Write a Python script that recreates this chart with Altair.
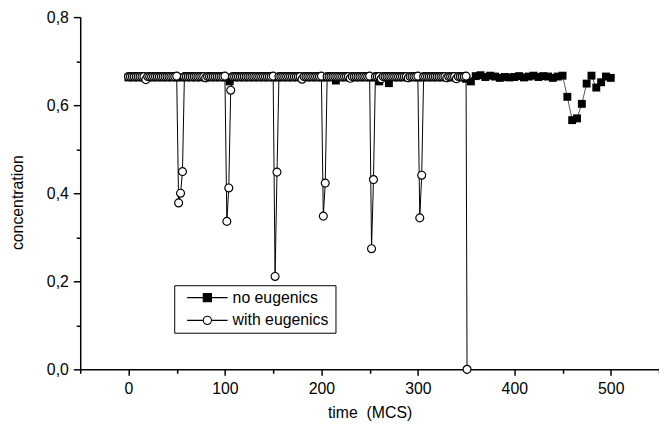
import altair as alt
import pandas as pd

series_names = ["no eugenics", "with eugenics"]

# with eugenics: sampled every 2 MCS, extinction at 351
time_with = list(range(0, 351, 2)) + [351]
conc_with = [
    # 0 .. 48
    0.665, 0.665, 0.665, 0.665, 0.665, 0.665, 0.665, 0.665, 0.665, 0.658,
    0.665, 0.665, 0.665, 0.665, 0.665, 0.665, 0.665, 0.665, 0.665, 0.665,
    0.665, 0.665, 0.665, 0.665, 0.665,
    # 50 .. 98
    0.666, 0.378, 0.400, 0.449, 0.665, 0.665, 0.665, 0.665, 0.665, 0.665,
    0.665, 0.665, 0.665, 0.665, 0.665, 0.662, 0.665, 0.665, 0.665, 0.665,
    0.665, 0.665, 0.665, 0.665, 0.665,
    # 100 .. 148
    0.666, 0.336, 0.412, 0.634, 0.665, 0.665, 0.665, 0.665, 0.665, 0.665,
    0.665, 0.665, 0.665, 0.665, 0.665, 0.665, 0.665, 0.665, 0.665, 0.665,
    0.665, 0.665, 0.665, 0.665, 0.665,
    # 150 .. 198
    0.666, 0.211, 0.448, 0.665, 0.665, 0.665, 0.665, 0.665, 0.665, 0.665,
    0.665, 0.665, 0.665, 0.665, 0.665, 0.659, 0.665, 0.665, 0.665, 0.665,
    0.665, 0.665, 0.665, 0.665, 0.665,
    # 200 .. 248
    0.666, 0.348, 0.423, 0.665, 0.665, 0.665, 0.665, 0.665, 0.665, 0.665,
    0.665, 0.665, 0.665, 0.665, 0.665, 0.661, 0.665, 0.665, 0.665, 0.665,
    0.665, 0.665, 0.665, 0.665, 0.665,
    # 250 .. 298
    0.666, 0.274, 0.431, 0.665, 0.665, 0.665, 0.660, 0.665, 0.665, 0.665,
    0.665, 0.665, 0.665, 0.665, 0.665, 0.665, 0.665, 0.665, 0.665, 0.665,
    0.662, 0.665, 0.665, 0.665, 0.665,
    # 300 .. 348
    0.666, 0.344, 0.441, 0.665, 0.665, 0.665, 0.665, 0.665, 0.665, 0.665,
    0.665, 0.665, 0.665, 0.665, 0.665, 0.662, 0.665, 0.665, 0.665, 0.665,
    0.660, 0.665, 0.665, 0.665, 0.665,
    # 350, 351
    0.666, 0.000,
]

# no eugenics: sampled every 5 MCS
time_no = list(range(0, 501, 5))
conc_no = [
    0.663, 0.663, 0.663, 0.663, 0.663, 0.663, 0.663, 0.663, 0.663, 0.663,
    0.663, 0.663, 0.663, 0.663, 0.663, 0.663, 0.663, 0.663, 0.663, 0.663,
    0.663, 0.654, 0.663, 0.663, 0.663, 0.663, 0.663, 0.663, 0.663, 0.663,
    0.663, 0.663, 0.663, 0.663, 0.663, 0.663, 0.663, 0.663, 0.663, 0.663,
    0.663, 0.663, 0.663, 0.656, 0.663, 0.663, 0.663, 0.663, 0.663, 0.663,
    0.663, 0.663, 0.654, 0.663, 0.650, 0.663, 0.663, 0.663, 0.663, 0.663,
    0.663, 0.663, 0.663, 0.663, 0.663, 0.663, 0.663, 0.663, 0.663, 0.663,
    0.660, 0.654, 0.666, 0.668, 0.664, 0.667, 0.665, 0.662, 0.664, 0.663,
    0.664, 0.666, 0.663, 0.665, 0.667, 0.664, 0.666, 0.665, 0.662, 0.665,
    0.667, 0.619, 0.566, 0.570, 0.603, 0.649, 0.667, 0.640, 0.652, 0.665,
    0.662,
]

x_ticks = [-50, 0, 50, 100, 150, 200, 250, 300, 350, 400, 450, 500, 550]
y_ticks = [0.0, 0.1, 0.2, 0.3, 0.4, 0.5, 0.6, 0.7, 0.8]

df_with = pd.DataFrame({"time": time_with, "conc": conc_with})
df_no = pd.DataFrame({"time": time_no, "conc": conc_no})
df_leg = pd.DataFrame({"series": series_names, "time": [0, 0], "conc": [0, 0]})

FONT = "Liberation Sans"
FS = 16

x_enc = alt.X(
    "time:Q",
    scale=alt.Scale(domain=[-50, 550], nice=False, zero=False),
    axis=alt.Axis(
        title="time\u00a0 (MCS)",
        values=x_ticks,
        labelExpr="datum.value % 100 === 0 ? datum.label : ''",
        tickSize={"condition": {"test": "datum.value % 100 === 0", "value": 6}, "value": 4},
        labelPadding=5,
        titlePadding=9,
        grid=False,
    ),
)
y_enc = alt.Y(
    "conc:Q",
    scale=alt.Scale(domain=[0, 0.8], nice=False, zero=False),
    axis=alt.Axis(
        title="concentration",
        values=y_ticks,
        labelExpr="round(datum.value*10) % 2 === 0 ? replace(format(datum.value, '.1f'), '.', ',') : ''",
        tickSize={"condition": {"test": "round(datum.value*10) % 2 === 0", "value": 7}, "value": 4},
        labelPadding=5,
        titlePadding=21,
        titleY=187,
        grid=False,
    ),
)

line_no = alt.Chart(df_no).mark_line(color="#555555", strokeWidth=1).encode(x=x_enc, y=y_enc)
pts_no = alt.Chart(df_no).mark_point(shape="square", filled=True, color="black", size=64, opacity=1).encode(x=x_enc, y=y_enc)
line_with = alt.Chart(df_with).mark_line(color="black", strokeWidth=1).encode(x=x_enc, y=y_enc)
pts_with = alt.Chart(df_with).mark_point(
    shape="circle", fill="white", stroke="black", strokeWidth=1.2, size=64, opacity=1, filled=False
).encode(x=x_enc, y=y_enc)

# legend symbols: a line through a marker (nominal symbol 15px, path reaches beyond it)
sq_path = "M-2.73,0H-0.55M0.55,0H2.73M-0.55,-0.55H0.55V0.55H-0.55Z"
ci_path = "M-2.73,0H-0.55M0.55,0H2.73M-0.55,0A0.55,0.55 0 1,0 0.55,0A0.55,0.55 0 1,0 -0.55,0Z"

leg = alt.Legend(
    title="\u00a0", titleOrient="right", titlePadding=3,
    orient="none", legendX=95, legendY=271,
)
legend_layer = alt.Chart(df_leg).transform_filter("false").mark_point(size=225, filled=True, opacity=1).encode(
    x=x_enc,
    y=y_enc,
    shape=alt.Shape("series:N", scale=alt.Scale(domain=series_names, range=[sq_path, ci_path]), legend=leg),
    fill=alt.Fill("series:N", scale=alt.Scale(domain=series_names, range=["black", "white"]), legend=leg),
    stroke=alt.Stroke("series:N", scale=alt.Scale(domain=series_names, range=["black", "black"]), legend=leg),
)

chart = (
    alt.layer(line_no, pts_no, line_with, pts_with, legend_layer)
    .properties(
        width=585,
        height=356,
        autosize=alt.AutoSizeParams(type="none"),
        padding={"left": 73, "top": 7, "right": 0, "bottom": 50},
    )
    .configure_view(stroke=None)
    .configure_axis(
        domainColor="black",
        domainWidth=1.5,
        tickColor="black",
        tickWidth=1.5,
        labelFont=FONT,
        labelFontSize=FS,
        labelColor="black",
        titleFont=FONT,
        titleFontSize=FS,
        titleFontWeight="normal",
        titleColor="black",
    )
    .configure_legend(
        labelFont=FONT,
        labelFontSize=FS,
        labelColor="black",
        titleFont=FONT,
        titleFontSize=FS,
        strokeColor="black",
        fillColor="white",
        padding=4,
        symbolOffset=21,
        symbolSize=225,
        symbolStrokeWidth=1.1,
        symbolOpacity=1,
        labelOffset=17,
        rowPadding=6,
    )
)

chart.save("out.html", embed_options={"renderer": "svg", "actions": False})
